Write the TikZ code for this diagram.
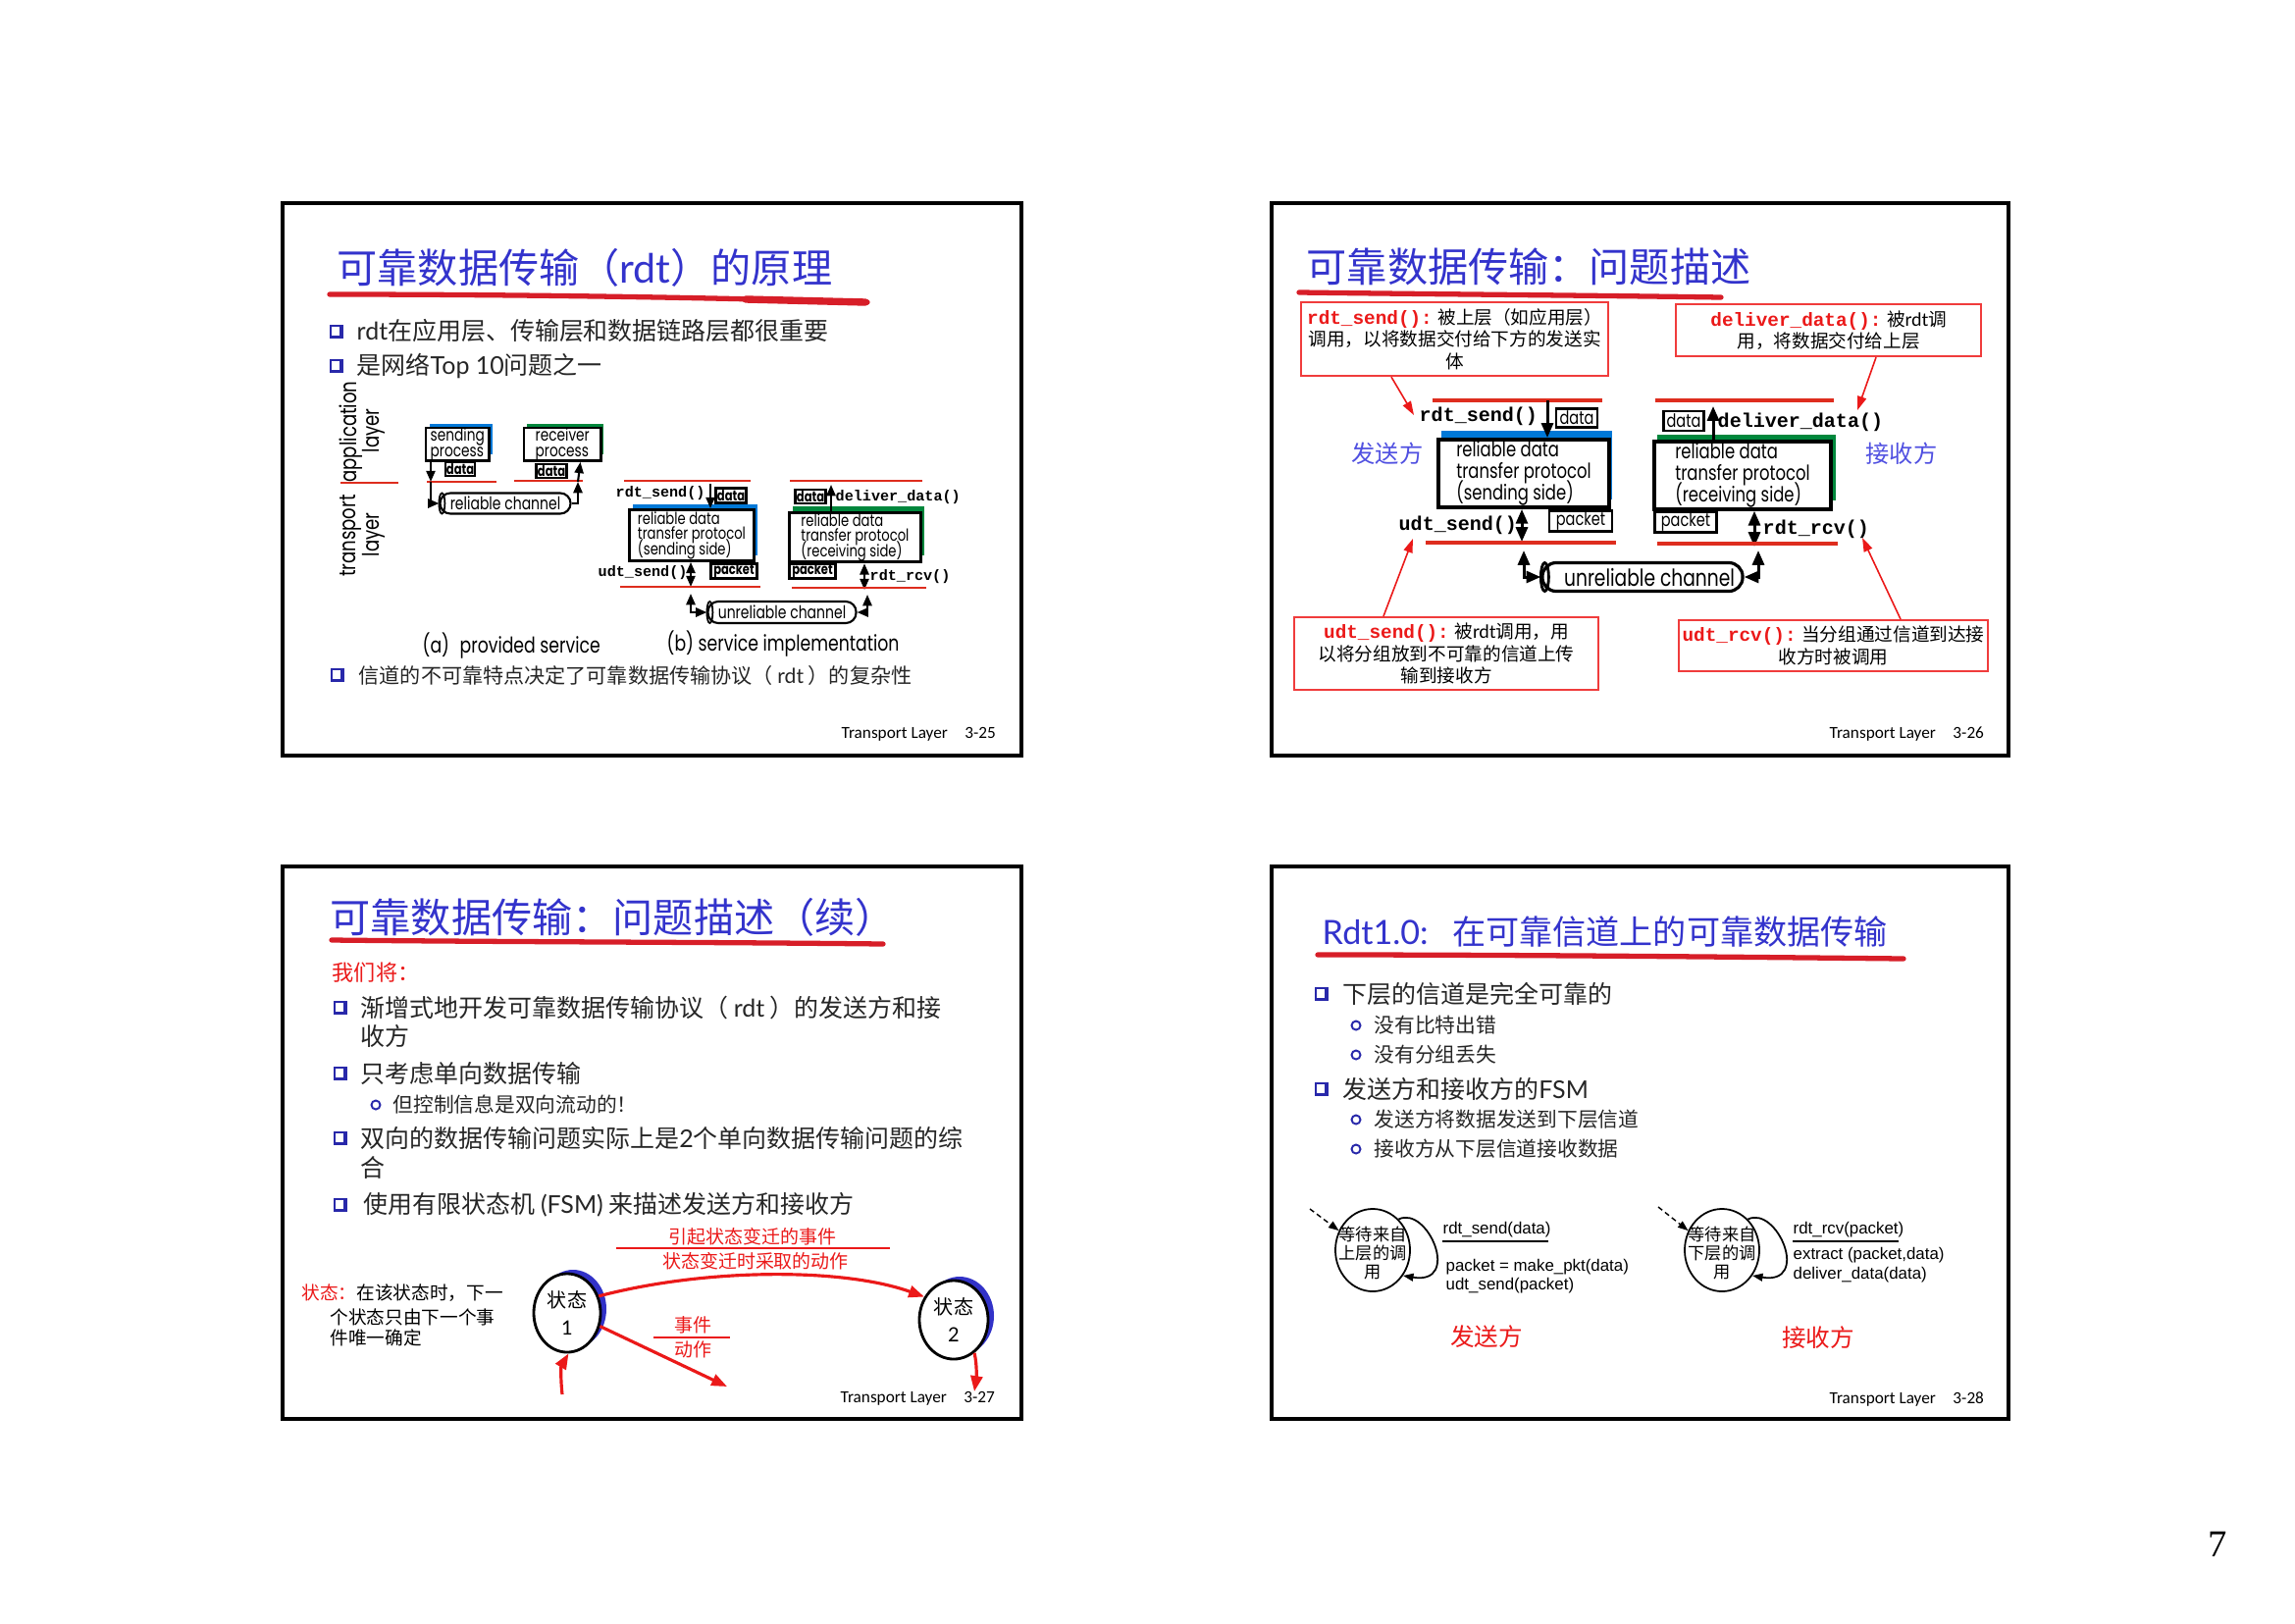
\documentclass[tikz,border=0pt]{standalone}
\usepackage{fontspec}
\setmainfont{Noto Sans CJK SC}
\newfontfamily\gill{Lato}
\newfontfamily\mono{Liberation Mono}
\newfontfamily\geo[FakeStretch=0.78]{Poppins}
\newfontfamily\arial{Liberation Sans}
\newfontfamily\hand{Carlito}
\newfontfamily\serif{Liberation Serif}
\usetikzlibrary{arrows.meta,calc,shapes.geometric}
\newcommand{\fz}[2]{\fontsize{#1pt}{#2pt}\selectfont}
% keep line pitch fixed inside multi-line labels
\lineskiplimit=-100pt

\definecolor{ttlblue}{RGB}{51,51,204}
\definecolor{bulblue}{RGB}{40,40,170}
\definecolor{ulred}{RGB}{215,30,40}
\definecolor{txtred}{RGB}{235,25,25}
\definecolor{boxred}{RGB}{240,60,60}
\definecolor{lblue}{RGB}{80,80,225}
\definecolor{shblue}{RGB}{0,120,215}
\definecolor{shgreen}{RGB}{0,135,60}
\definecolor{crescent}{RGB}{50,50,200}
\definecolor{ruler}{RGB}{222,45,30}

\begin{document}
\begin{tikzpicture}[x=0.01cm, y=-0.01cm,
  frame/.style={draw=black, line width=1.1pt},
  txt/.style={inner sep=0pt, anchor=west},
  ttl/.style={txt, text=ttlblue, font=\fz{11.7}{14}},
  bl/.style={txt, text=black!85, font=\fz{7.1}{8.5}},
  sbl/.style={txt, text=black!85, font=\fz{5.9}{7}},
  foot/.style={txt, font=\hand\fz{4.9}{6}},
  brush/.style={draw=ulred, line width=1.5pt, line cap=round},
  rline/.style={draw=ruler, line width=0.8pt},
  rline2/.style={draw=ruler, line width=1.2pt},
  lbl/.style={inner sep=0pt, font=\geo\fz{6.6}{7}},
  captxt/.style={inner sep=0pt, font=\geo\fz{6.3}{7}},
  pbox/.style={draw, fill=white, line width=0.7pt, inner xsep=1pt, inner ysep=0pt, align=left, font=\geo\fz{5}{4.4}},
  pbox1b/.style={draw, fill=white, line width=0.8pt, inner xsep=1pt, inner ysep=0.3pt, align=left, font=\geo\fz{4.8}{4.4}},
  pbox2/.style={draw, fill=white, line width=1.1pt, inner xsep=1pt, inner ysep=0.5pt, align=left, font=\geo\fz{6}{6.2}},
  dbox1/.style={draw, fill=white, line width=0.6pt, inner sep=0pt, font=\geo\bfseries\fz{4.2}{4.5}},
  dbox2/.style={draw, fill=white, line width=0.8pt, inner sep=0pt, font=\geo\fz{5.3}{5.5}},
  chan1/.style={draw, fill=white, line width=0.6pt, rounded corners=3pt, inner sep=0pt, font=\geo\fz{5.1}{5.5}},
  chan2/.style={draw, fill=white, line width=0.9pt, rounded corners=4pt, inner sep=0pt, font=\geo\fz{6.8}{7}},
  mono1/.style={txt, font=\mono\bfseries\fz{4.3}{5}},
  mono2/.style={txt, font=\mono\bfseries\fz{5.7}{6.5}},
  rbox/.style={draw=boxred, line width=0.6pt, inner sep=1pt, align=center, font=\fz{5.3}{6.4}},
  arr/.style={line width=0.6pt, -{Triangle[length=3.2pt,width=2.6pt]}},
  darr/.style={line width=0.6pt, {Triangle[length=3.2pt,width=2.6pt]}-{Triangle[length=3.2pt,width=2.6pt]}},
  arr2/.style={line width=0.85pt, -{Triangle[length=4.2pt,width=3.4pt]}},
  darr2/.style={line width=0.85pt, {Triangle[length=4.2pt,width=3.4pt]}-{Triangle[length=4.2pt,width=3.4pt]}},
  rarr/.style={draw=txtred, line width=0.45pt, -{Triangle[length=4pt,width=2.6pt]}},
  rthick/.style={draw=txtred, line width=0.9pt, -{Triangle[length=4.5pt,width=3.4pt]}},
  rrule/.style={draw=txtred, line width=0.6pt},
  rsm/.style={inner sep=0pt, text=txtred, font=\fz{5.4}{6.5}},
  stell/.style={ellipse, draw, fill=white, inner sep=0pt, line width=0.8pt},
  sttxt/.style={inner sep=0pt, align=center, font=\fz{5.7}{7.7}},
  fsmell/.style={ellipse, draw, inner sep=0pt, line width=0.5pt},
  fsmtxt/.style={inner sep=0pt, align=center, font=\fz{4.9}{5.5}},
  fsmlbl/.style={txt, font=\arial\fz{4.8}{5.5}},
  larr/.style={line width=0.5pt, -{Triangle[length=3pt,width=2.2pt]}},
  initarr/.style={line width=0.4pt, dash pattern=on 1.5pt off 1pt, -{Triangle[length=3pt,width=2.2pt]}},
  sqb/.pic={\fill[bulblue] (-7,-7) rectangle (7,7); \fill[white] (-5,-5) rectangle (3,4);},
  cb/.pic={\draw[bulblue, line width=0.55pt] (0,0) circle (4.5);}
]
\useasboundingbox (0,0) rectangle (2339,1654);
\fill[white] (0,0) rectangle (2339,1654);

% slide frames
\draw[frame] (288,207) rectangle (1041,770);
\draw[frame] (1296,207) rectangle (2047,770);
\draw[frame] (288,883) rectangle (1041,1446);
\draw[frame] (1296,883) rectangle (2047,1446);

\node[font=\serif\fz{11}{13}] (pgno) at (2260,1574) {7};

% ================= 3-25 =================
\node[ttl] (s1t) at (343,273) {可靠数据传输（{\gill rdt}）的原理};
\draw[brush] (336,300) .. controls (520,300) and (720,303) .. (884,308);
\draw[brush, line width=2.1pt] (760,305) -- (882,308);

\pic at (343,338) {sqb};
\node[bl] (s1a) at (363,337) {{\gill rdt}在应用层、传输层和数据链路层都很重要};
\pic at (343,373) {sqb};
\node[bl] (s1b) at (363,373) {是网络{\gill Top 10}问题之一};

\node[lbl, rotate=90] (app) at (358,440) {application};
\node[lbl, rotate=90] (appl) at (381,439) {layer};
\draw[rline] (347,492) -- (406,492);
\node[lbl, rotate=90] (trn) at (358,546) {transport};
\node[lbl, rotate=90] (trnl) at (381,545) {layer};

% (a) provided service
\fill[shblue] (438,432) rectangle (502,463);
\node[pbox, minimum width=0.64cm, minimum height=0.32cm, anchor=north west] (sp) at (433,435) {sending\\process};
\node[dbox1, minimum width=0.30cm, minimum height=0.14cm] (spd) at (469,478) {data};
\draw[rline] (435,491) -- (506,491);
\fill[shgreen] (537,432) rectangle (615,463);
\node[pbox, minimum width=0.78cm, minimum height=0.32cm, anchor=north west] (rp) at (533,435) {receiver\\process};
\node[dbox1, minimum width=0.31cm, minimum height=0.14cm] (rpd) at (562,480) {data};
\draw[rline] (524,490) -- (594,490);
\node[chan1, minimum width=1.33cm, minimum height=0.21cm] (rc) at (515,513) {reliable channel};
\draw[line width=0.5pt] ($(rc.west)+(3,0)$) ellipse [x radius=3, y radius=10.5];
\coordinate (sa1) at (439,491);
\draw[arr] ($(sp.south west)+(6,0)$) -- (sa1);
\draw[arr] (sa1) |- (rc.west);
\coordinate (ra1) at (589,491);
\draw[arr] (rc.east) -| (ra1);
\draw[arr] (ra1) -- ($(rp.south east)+(-22,0)$);

% (b) service implementation
\node[mono1] (rs1) at (627,503) {rdt\_send()};
\draw[rline] (636,490) -- (765,490);
\node[dbox1, minimum width=0.31cm, minimum height=0.15cm] (sdd) at (745,505) {data};
\fill[shblue] (645,514) rectangle (772,566);
\node[pbox1b, minimum width=1.27cm, minimum height=0.52cm, anchor=north west] (ps1) at (640,518) {reliable data\\transfer protocol\\(sending side)};
\coordinate (sd1top) at (724,493);
\draw[arr] (sd1top) -- ($(ps1.north west)+(84,0)$);
\node[mono1] (us1) at (609,584) {udt\_send()};
\coordinate (us1b) at (704,598);
\draw[darr] ($(ps1.south west)+(64,0)$) -- (us1b);
\node[dbox1, minimum width=0.47cm, minimum height=0.15cm] (pk1) at (748,582) {packet};
\draw[rline] (632,598) -- (775,598);
\node[chan1, minimum width=1.51cm, minimum height=0.22cm] (uc1) at (797,624) {unreliable channel};
\draw[line width=0.5pt] ($(uc1.west)+(3,0)$) ellipse [x radius=3, y radius=11];
\coordinate (uc1l) at (704,605);
\draw[darr] (uc1l) |- (uc1.west);
\coordinate (uc1r) at (884,606);
\draw[darr] (uc1.east) -| (uc1r);

\fill[shgreen] (808,516) rectangle (942,566);
\node[pbox1b, minimum width=1.34cm, minimum height=0.49cm, anchor=north west] (pr1) at (803,521) {reliable data\\transfer protocol\\(receiving side)};
\node[dbox1, minimum width=0.31cm, minimum height=0.14cm] (rdd) at (826,506) {data};
\coordinate (dd1top) at (847,494);
\draw[arr] ($(pr1.north west)+(44,0)$) -- (dd1top);
\node[mono1] (dd1) at (851,507) {deliver\_data()};
\draw[rline] (805,490) -- (940,490);
\node[dbox1, minimum width=0.47cm, minimum height=0.15cm] (pk2) at (828,582) {packet};
\coordinate (rr1b) at (881,601);
\draw[darr] ($(pr1.south west)+(78,0)$) -- (rr1b);
\node[mono1] (rr1) at (886,588) {rdt\_rcv()};
\draw[rline] (807,599) -- (944,599);

\node[captxt, anchor=west] (ca) at (430,658) {(a)\hspace{3pt}provided service};
\node[captxt, anchor=west] (cb) at (679,656) {(b) service implementation};

\pic at (344,688) {sqb};
\node[bl, font=\fz{6}{7}] (s1c) at (365,688) {信道的不可靠特点决定了可靠数据传输协议（ {\gill rdt} ）的复杂性};

\node[foot] (f1) at (857,748) {Transport Layer\hspace{5pt}3-25};

% ================= 3-26 =================
\node[ttl] (s2t) at (1331,272) {可靠数据传输：问题描述};
\draw[brush] (1324,298) .. controls (1480,300) and (1620,301) .. (1754,303);

\node[rbox, minimum width=3.13cm, minimum height=0.75cm, anchor=north west] (b1) at (1325,307)
  {{\mono\bfseries\fz{5.5}{6.4}\color{txtred}rdt\_send():} 被上层（如应用层）\\调用，以将数据交付给下方的发送实\\体};
\node[rbox, minimum width=3.11cm, minimum height=0.53cm, anchor=north west] (b2) at (1707,309)
  {{\mono\bfseries\fz{5.5}{6.4}\color{txtred}deliver\_data():} 被{\gill rdt}调\\用，将数据交付给上层};

\node[mono2] (rs2) at (1446,424) {rdt\_send()};
\coordinate (rs2p) at (1441,423);
\draw[rarr] ($(b1.south west)+(93,0)$) -- (rs2p);
\coordinate (dd2p) at (1893,418);
\draw[rarr] ($(b2.south west)+(205,0)$) -- (dd2p);

\draw[rline2] (1460,408) -- (1633,408);
\node[dbox2, minimum width=0.42cm, minimum height=0.19cm] (sdd2) at (1607,426) {data};
\fill[shblue] (1469,439) rectangle (1643,509);
\node[pbox2, minimum width=1.74cm, minimum height=0.69cm, anchor=north west] (ps2) at (1464,446) {reliable data\\transfer protocol\\(sending side)};
\coordinate (sd2top) at (1577,408);
\draw[arr2] (sd2top) -- ($(ps2.north west)+(113,0)$);
\node[txt, text=lblue, font=\fz{6.9}{8}] (snd2) at (1377,462) {发送方};

\fill[shgreen] (1689,443) rectangle (1871,510);
\node[pbox2, minimum width=1.80cm, minimum height=0.67cm, anchor=north west] (pr2) at (1684,448) {reliable data\\transfer protocol\\(receiving side)};
\node[dbox2, minimum width=0.41cm, minimum height=0.20cm] (rdd2) at (1716,429) {data};
\coordinate (dd2top) at (1746,414);
\draw[arr2] ($(pr2.north west)+(62,0)$) -- (dd2top);
\node[mono2] (dd2) at (1750,430) {deliver\_data()};
\draw[rline2] (1687,408) -- (1869,408);
\node[txt, text=lblue, font=\fz{6.9}{8}] (rcv2) at (1901,462) {接收方};

\node[mono2] (us2) at (1425,535) {udt\_send()};
\coordinate (us2b) at (1551,552);
\draw[darr2] ($(ps2.south west)+(87,0)$) -- (us2b);
\node[dbox2, minimum width=0.64cm, minimum height=0.21cm] (pk3) at (1611,531) {packet};
\draw[rline2] (1453,553) -- (1647,553);
\node[chan2, minimum width=2.04cm, minimum height=0.29cm] (uc2) at (1674,588) {\hspace{4pt}unreliable channel};
\draw[line width=0.8pt] ($(uc2.west)+(4,0)$) ellipse [x radius=4, y radius=14.5];
\coordinate (uc2l) at (1553,561);
\draw[darr2] (uc2l) |- (uc2.west);
\coordinate (uc2r) at (1792,561);
\draw[darr2] (uc2.east) -| (uc2r);
\node[dbox2, minimum width=0.63cm, minimum height=0.21cm] (pk4) at (1718,532) {packet};
\coordinate (rr2b) at (1788,557);
\draw[darr2] ($(pr2.south west)+(104,0)$) -- (rr2b);
\node[mono2] (rr2) at (1796,539) {rdt\_rcv()};
\draw[rline2] (1689,554) -- (1873,554);

\node[rbox, minimum width=3.10cm, minimum height=0.74cm, anchor=north west] (b3) at (1318,628)
  {{\mono\bfseries\fz{5.5}{6.4}\color{txtred}udt\_send():} 被{\gill rdt}调用，用\\以将分组放到不可靠的信道上传\\输到接收方};
\node[rbox, minimum width=3.11cm, minimum height=0.52cm, anchor=north west] (b4) at (1710,631)
  {{\mono\bfseries\fz{5.5}{6.4}\color{txtred}udt\_rcv():} 当分组通过信道到达接\\收方时被调用};
\coordinate (us2p) at (1440,549);
\draw[rarr] ($(b3.north west)+(92,0)$) -- (us2p);
\coordinate (rr2p) at (1898,548);
\draw[rarr] ($(b4.north west)+(227,0)$) -- (rr2p);

\node[foot] (f2) at (1864,748) {Transport Layer\hspace{5pt}3-26};

% ================= 3-27 =================
\node[ttl] (s3t) at (336,935) {可靠数据传输：问题描述（续）};
\draw[brush] (338,958) .. controls (520,960) and (720,960) .. (900,962);
\node[txt, text=txtred, font=\fz{6.3}{7}] (we) at (338,991) {我们将：};
\pic at (347,1027) {sqb};
\node[bl] (s3a) at (367,1027) {渐增式地开发可靠数据传输协议（ {\gill rdt} ）的发送方和接};
\node[bl] (s3a2) at (367,1056) {收方};
\pic at (347,1094) {sqb};
\node[bl] (s3b) at (367,1094) {只考虑单向数据传输};
\pic at (383,1126) {cb};
\node[sbl] (s3b1) at (400,1126) {但控制信息是双向流动的！};
\pic at (347,1160) {sqb};
\node[bl] (s3c) at (367,1160) {双向的数据传输问题实际上是{\gill 2}个单向数据传输问题的综};
\node[bl] (s3c2) at (367,1190) {合};
\pic at (347,1228) {sqb};
\node[bl] (s3d) at (370,1228) {使用有限状态机 {\gill (FSM)} 来描述发送方和接收方};

\node[rsm] (ev) at (767,1260) {引起状态变迁的事件};
\draw[rrule] (628,1272) -- (907,1272);
\node[rsm] (ac) at (770,1285) {状态变迁时采取的动作};

\node[txt, font=\fz{5.3}{6}] (sd1) at (307,1318) {{\color{txtred}状态：}在该状态时，下一};
\node[txt, font=\fz{5.3}{6}] (sd2) at (336,1342) {个状态只由下一个事};
\node[txt, font=\fz{5.3}{6}] (sd3) at (336,1363) {件唯一确定};

\fill[crescent] (584,1334) ellipse [x radius=34, y radius=40];
\node[stell, minimum width=0.68cm, minimum height=0.80cm] (st1) at (578,1338) {};
\node[sttxt] (st1t) at (st1.center) {状态\\{\gill 1}};
\fill[crescent] (978,1341) ellipse [x radius=35, y radius=40];
\node[stell, minimum width=0.70cm, minimum height=0.80cm] (st2) at (972,1345) {};
\node[sttxt] (st2t) at (st2.center) {状态\\{\gill 2}};

\draw[rthick] (st1.28) .. controls (720,1292) and (860,1292) .. (st2.142);
\coordinate (e1) at (741,1413);
\draw[rthick] (st1.-22) -- (e1);
\coordinate (i1) at (573,1421);
\draw[rthick] (i1) .. controls (571,1402) and (572,1392) .. (st1.-88);
\coordinate (o2) at (993,1418);
\draw[rthick] (st2.-58) .. controls (996,1392) and (995,1405) .. (o2);

\node[rsm] (ev2) at (706,1350) {事件};
\draw[rrule] (666,1363) -- (744,1363);
\node[rsm] (ac2) at (706,1375) {动作};

\node[foot] (f3) at (856,1425) {Transport Layer\hspace{5pt}3-27};

% ================= 3-28 =================
\node[ttl, font=\fz{9.7}{11}] (s4t) at (1347,950) {{\gill Rdt1.0:}\hspace{7pt}在可靠信道上的可靠数据传输};
\draw[brush] (1343,973) .. controls (1540,973) and (1750,975) .. (1940,977);

\pic at (1347,1013) {sqb};
\node[bl] (s4a) at (1368,1013) {下层的信道是完全可靠的};
\pic at (1382,1045) {cb};
\node[sbl] (s4a1) at (1400,1045) {没有比特出错};
\pic at (1382,1075) {cb};
\node[sbl] (s4a2) at (1400,1075) {没有分组丢失};
\pic at (1347,1110) {sqb};
\node[bl] (s4b) at (1368,1110) {发送方和接收方的{\gill FSM}};
\pic at (1382,1141) {cb};
\node[sbl] (s4b1) at (1400,1141) {发送方将数据发送到下层信道};
\pic at (1382,1171) {cb};
\node[sbl] (s4b2) at (1400,1171) {接收方从下层信道接收数据};

% sender FSM
\node[fsmell, minimum width=0.76cm, minimum height=0.84cm] (ws) at (1399,1274) {};
\node[fsmtxt] (wst) at (1399,1277) {等待来自\\上层的调\\用};
\draw[larr] (ws.50) .. controls (1455,1228) and (1490,1310) .. (ws.-40);
\coordinate (wsi) at (1335,1232);
\draw[initarr] (wsi) -- (ws.150);
\node[fsmlbl] (ws1) at (1470,1253) {rdt\_send(data)};
\draw[line width=0.6pt] (1470,1265) -- (1578,1265);
\node[fsmlbl] (ws2) at (1473,1291) {packet = make\_pkt(data)};
\node[fsmlbl] (ws3) at (1473,1310) {udt\_send(packet)};

% receiver FSM
\node[fsmell, minimum width=0.76cm, minimum height=0.84cm] (wr) at (1755,1274) {};
\node[fsmtxt] (wrt) at (1755,1277) {等待来自\\下层的调\\用};
\draw[larr] (wr.50) .. controls (1811,1228) and (1846,1310) .. (wr.-40);
\coordinate (wri) at (1690,1230);
\draw[initarr] (wri) -- (wr.150);
\node[fsmlbl] (wr1) at (1827,1253) {rdt\_rcv(packet)};
\draw[line width=0.6pt] (1827,1265) -- (1935,1265);
\node[fsmlbl] (wr2) at (1827,1279) {extract (packet,data)};
\node[fsmlbl] (wr3) at (1827,1299) {deliver\_data(data)};

\node[text=txtred, inner sep=0pt, font=\fz{7}{8}] (snd4) at (1515,1362) {发送方};
\node[text=txtred, inner sep=0pt, font=\fz{7}{8}] (rcv4) at (1853,1363) {接收方};

\node[foot] (f4) at (1864,1426) {Transport Layer\hspace{5pt}3-28};
\end{tikzpicture}
\end{document}
